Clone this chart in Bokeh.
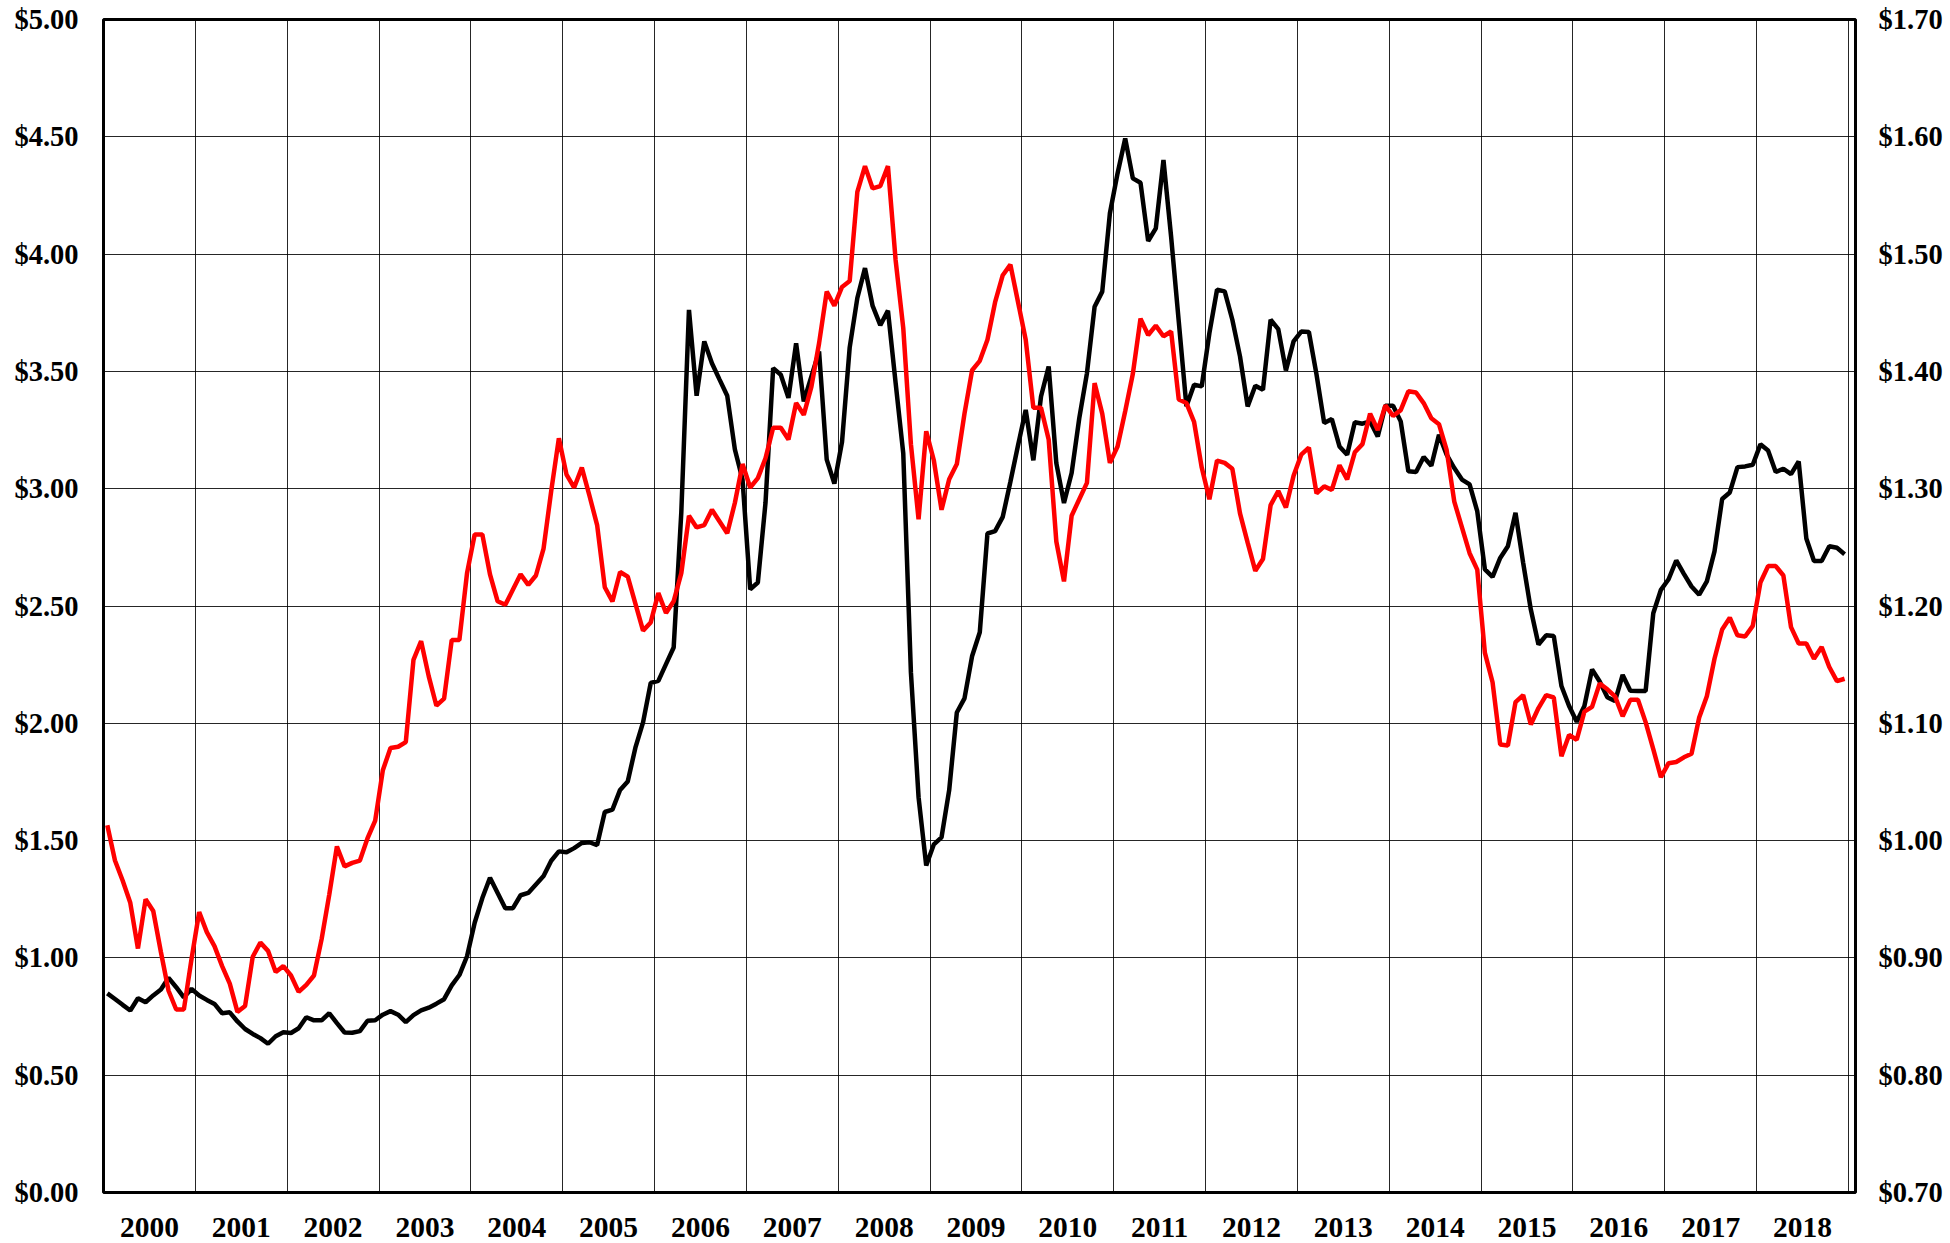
from bokeh.plotting import figure
from bokeh.models import Range1d, LinearAxis, FixedTicker, NumeralTickFormatter
from bokeh.embed import file_html
from bokeh.resources import INLINE

# Monthly series, Jan 2000 .. Dec 2018
years = list(range(2000, 2019))
year_labels = [str(y) for y in years]

black_series = [
    0.849, 0.825, 0.800, 0.776, 0.828, 0.811, 0.840, 0.865, 0.915, 0.875, 0.832, 0.868,
    0.840, 0.821, 0.804, 0.764, 0.768, 0.729, 0.697, 0.676, 0.658, 0.634, 0.666, 0.683,
    0.680, 0.700, 0.747, 0.734, 0.734, 0.764, 0.722, 0.682, 0.681, 0.688, 0.732, 0.734,
    0.758, 0.773, 0.758, 0.726, 0.756, 0.776, 0.788, 0.805, 0.824, 0.883, 0.927, 1.007,
    1.150, 1.255, 1.342, 1.277, 1.212, 1.212, 1.267, 1.277, 1.313, 1.349, 1.414, 1.454,
    1.450, 1.468, 1.490, 1.493, 1.481, 1.622, 1.632, 1.716, 1.752, 1.896, 2.004, 2.172,
    2.181, 2.252, 2.323, 2.900, 3.762, 3.396, 3.628, 3.535, 3.465, 3.396, 3.167, 3.039,
    2.571, 2.600, 2.940, 3.514, 3.486, 3.387, 3.620, 3.372, 3.479, 3.585, 3.124, 3.022,
    3.200, 3.602, 3.813, 3.940, 3.779, 3.697, 3.759, 3.452, 3.151, 2.217, 1.685, 1.394,
    1.484, 1.514, 1.715, 2.046, 2.106, 2.287, 2.388, 2.809, 2.819, 2.880, 3.030, 3.185,
    3.336, 3.121, 3.393, 3.521, 3.109, 2.939, 3.067, 3.301, 3.492, 3.776, 3.840, 4.174,
    4.344, 4.493, 4.323, 4.304, 4.056, 4.110, 4.401, 4.074, 3.712, 3.351, 3.443, 3.436,
    3.663, 3.848, 3.841, 3.720, 3.564, 3.351, 3.439, 3.422, 3.720, 3.680, 3.504, 3.628,
    3.670, 3.668, 3.486, 3.280, 3.297, 3.180, 3.145, 3.283, 3.277, 3.287, 3.223, 3.354,
    3.354, 3.287, 3.074, 3.071, 3.135, 3.098, 3.230, 3.145, 3.088, 3.039, 3.018, 2.904,
    2.656, 2.624, 2.705, 2.755, 2.897, 2.684, 2.485, 2.336, 2.375, 2.372, 2.159, 2.074,
    2.007, 2.074, 2.230, 2.178, 2.111, 2.095, 2.206, 2.139, 2.138, 2.138, 2.469, 2.569,
    2.614, 2.694, 2.637, 2.583, 2.548, 2.605, 2.733, 2.956, 2.984, 3.092, 3.095, 3.102,
    3.189, 3.163, 3.071, 3.085, 3.062, 3.116, 2.788, 2.692, 2.692, 2.755, 2.748, 2.721,
]

red_series = [
    1.013, 0.983, 0.966, 0.947, 0.908, 0.950, 0.940, 0.905, 0.872, 0.856, 0.856, 0.899,
    0.939, 0.922, 0.910, 0.893, 0.878, 0.854, 0.859, 0.901, 0.913, 0.906, 0.888, 0.893,
    0.885, 0.871, 0.877, 0.885, 0.916, 0.954, 0.995, 0.978, 0.981, 0.983, 1.002, 1.017,
    1.060, 1.079, 1.080, 1.084, 1.154, 1.170, 1.140, 1.115, 1.121, 1.171, 1.171, 1.228,
    1.261, 1.261, 1.227, 1.204, 1.201, 1.214, 1.227, 1.218, 1.226, 1.249, 1.298, 1.343,
    1.312, 1.301, 1.318, 1.294, 1.269, 1.216, 1.204, 1.229, 1.225, 1.202, 1.179, 1.186,
    1.211, 1.194, 1.204, 1.228, 1.277, 1.267, 1.269, 1.282, 1.272, 1.262, 1.288, 1.321,
    1.301, 1.309, 1.326, 1.352, 1.352, 1.342, 1.373, 1.363, 1.387, 1.424, 1.468, 1.456,
    1.472, 1.477, 1.553, 1.575, 1.556, 1.558, 1.575, 1.495, 1.437, 1.338, 1.274, 1.349,
    1.324, 1.282, 1.308, 1.321, 1.364, 1.401, 1.409, 1.427, 1.459, 1.482, 1.491, 1.459,
    1.427, 1.369, 1.369, 1.342, 1.255, 1.221, 1.277, 1.291, 1.305, 1.390, 1.364, 1.322,
    1.336, 1.366, 1.398, 1.445, 1.431, 1.439, 1.430, 1.434, 1.376, 1.373, 1.357, 1.318,
    1.291, 1.324, 1.322, 1.317, 1.279, 1.254, 1.230, 1.240, 1.286, 1.298, 1.284, 1.311,
    1.329, 1.335, 1.296, 1.302, 1.299, 1.320, 1.308, 1.331, 1.338, 1.364, 1.350, 1.371,
    1.362, 1.367, 1.383, 1.382, 1.373, 1.360, 1.355, 1.333, 1.289, 1.267, 1.245, 1.231,
    1.160, 1.135, 1.082, 1.081, 1.118, 1.124, 1.099, 1.113, 1.124, 1.122, 1.072, 1.090,
    1.086, 1.110, 1.114, 1.134, 1.129, 1.123, 1.106, 1.120, 1.120, 1.101, 1.078, 1.054,
    1.066, 1.067, 1.071, 1.074, 1.105, 1.123, 1.155, 1.180, 1.190, 1.175, 1.174, 1.183,
    1.220, 1.234, 1.234, 1.226, 1.182, 1.168, 1.168, 1.155, 1.165, 1.148, 1.136, 1.138,
]

left_ticks = [0.0, 0.5, 1.0, 1.5, 2.0, 2.5, 3.0, 3.5, 4.0, 4.5, 5.0]
right_ticks = [0.7, 0.8, 0.9, 1.0, 1.1, 1.2, 1.3, 1.4, 1.5, 1.6, 1.7]

# month-centre positions in fractional years
t = [years[0] + (i + 0.5) / 12.0 for i in range(len(black_series))]

FONT = "Liberation Serif"

p = figure(width=1950, height=1243,
           x_range=Range1d(2000, 2019.077), y_range=Range1d(0, 5),
           output_backend="svg", toolbar_location=None,
           min_border_left=103, min_border_right=95,
           min_border_top=19, min_border_bottom=51)
p.extra_y_ranges = {"right": Range1d(0.7, 1.7)}
p.background_fill_color = "white"
p.border_fill_color = "white"
p.outline_line_color = "black"
p.outline_line_width = 3

# axes
p.yaxis.ticker = FixedTicker(ticks=left_ticks)
p.yaxis.formatter = NumeralTickFormatter(format="$0.00")
p.xaxis.ticker = FixedTicker(ticks=[y + 0.5 for y in years])
p.xaxis.major_label_overrides = {y + 0.5: lab for y, lab in zip(years, year_labels)}

raxis = LinearAxis(y_range_name="right", ticker=FixedTicker(ticks=right_ticks),
                   formatter=NumeralTickFormatter(format="$0.00"))
p.add_layout(raxis, "right")

for ax in [p.xaxis[0], p.yaxis[0], raxis]:
    ax.axis_line_color = None
    ax.major_tick_line_color = None
    ax.minor_tick_line_color = None
    ax.major_tick_in = 0
    ax.major_tick_out = 0
    ax.minor_tick_in = 0
    ax.minor_tick_out = 0
    ax.major_label_text_font = FONT
    ax.major_label_text_font_style = "bold"
    ax.major_label_text_font_size = "28.5px"
    ax.major_label_text_color = "black"
p.xaxis[0].major_label_text_font_size = "29.5px"
p.yaxis[0].major_label_standoff = 25
raxis.major_label_standoff = 23
p.xaxis[0].major_label_standoff = 25

# grids
p.xgrid.ticker = FixedTicker(ticks=[y + 1 for y in years])
p.ygrid.ticker = FixedTicker(ticks=left_ticks)
for g in [p.xgrid[0], p.ygrid[0]]:
    g.grid_line_color = "black"
    g.grid_line_width = 1
    g.grid_line_alpha = 0.85

p.line(t, black_series, color="black", line_width=4.5)
p.line(t, red_series, color="#ff0000", line_width=4.5, y_range_name="right")

open("out.html", "w").write(file_html(p, INLINE))
